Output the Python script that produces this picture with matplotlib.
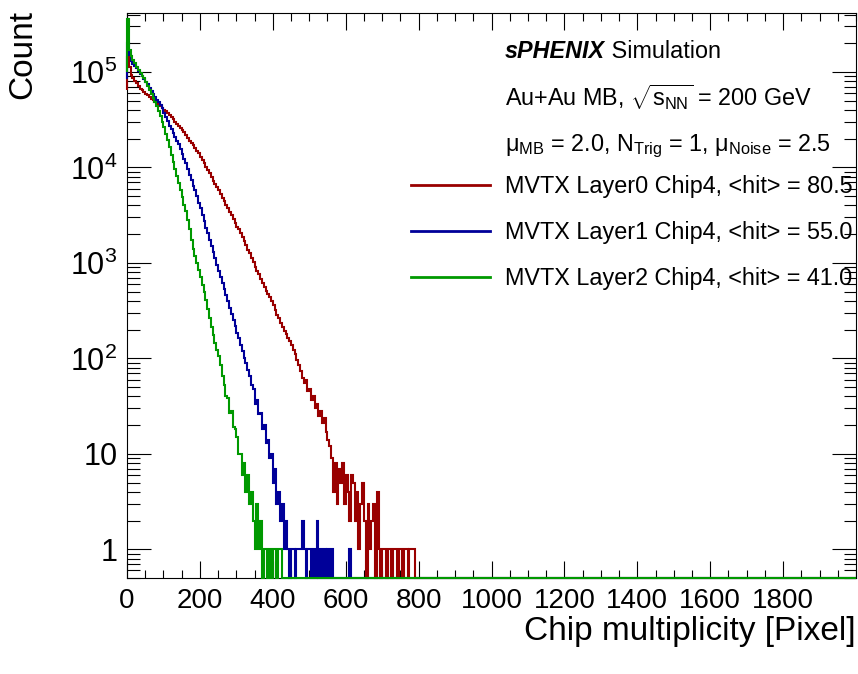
import numpy as np
import matplotlib
matplotlib.use("Agg")
import matplotlib.pyplot as plt
from matplotlib.lines import Line2D
from matplotlib.ticker import LogLocator, FixedLocator, MultipleLocator, FuncFormatter, NullFormatter

plt.rcParams["font.family"] = ["Liberation Sans", "DejaVu Sans"]
plt.rcParams["mathtext.fontset"] = "custom"
plt.rcParams["mathtext.rm"] = "Liberation Sans"
plt.rcParams["mathtext.it"] = "Liberation Sans:italic"
plt.rcParams["mathtext.bf"] = "Liberation Sans:bold"

# ---- histogram binning: one narrow first bin, then 5-pixel-wide bins up to 2000
bin_edges = np.concatenate(([0.0, 1.0], np.arange(5.0, 2000.1, 5.0)))

# ---- bin contents (first two entries: [0,1) and [1,5); then rows of ten 5-wide bins)
layer0_counts = [
    65000, 145000,
    112000, 93000, 87000, 81000, 76000, 71000, 66000, 64500, 62000, 59000,   # 5-55
    57500, 55000, 52500, 51000, 49000, 47000, 45700, 43600, 41700, 39800,    # 55-105
    38900, 37200, 35500, 33900, 32400, 30200, 28800, 27500, 25700, 24500,    # 105-155
    23400, 21900, 20400, 19100, 18200, 17000, 15800, 14800, 14100, 12900,    # 155-205
    12000, 11000, 10200, 9300, 8700, 7900, 7250, 6760, 6170, 5750,           # 205-255
    5250, 4790, 4420, 4070, 3720, 3390, 3160, 2880, 2630, 2400,              # 255-305
    2240, 2040, 1860, 1700, 1550, 1380, 1260, 1120, 1020, 912,               # 305-355
    832, 759, 676, 617, 562, 513, 468, 437, 398, 363,                        # 355-405
    324, 288, 263, 234, 214, 195, 178, 162, 151, 138,                        # 405-455
    123, 110, 95, 85, 74, 63, 55, 60, 45, 48,                                # 455-505
    37, 40, 30, 33, 25, 28, 21, 24, 17, 14,                                  # 505-555
    12, 9, 4, 8, 3, 7, 5, 8, 3, 6,                                           # 555-605
    4, 2, 6, 5, 2, 4, 1, 3, 5, 2,                                            # 605-655
    0, 3, 1, 2, 3, 0, 4, 1, 0, 1,                                            # 655-705
    1, 0, 1, 1, 0, 1, 1, 0, 1, 1,                                            # 705-755
    0, 1, 1, 0, 1, 1, 1,                                                     # 755-790
]

layer1_counts = [
    85000, 200000,
    150000, 130000, 121000, 115000, 110000, 102000, 95500, 91000, 85000, 79000,  # 5-55
    74000, 68000, 63000, 59000, 55000, 51000, 48000, 44700, 41700, 37000,        # 55-105
    34000, 31000, 27500, 25000, 23000, 21000, 19000, 17400, 15500, 13800,        # 105-155
    12300, 11000, 9550, 8300, 7400, 6450, 5750, 5000, 4270, 3720,                # 155-205
    3160, 2750, 2340, 2040, 1740, 1510, 1290, 1120, 955, 832,                    # 205-255
    708, 617, 537, 457, 398, 339, 295, 251, 219, 186,                            # 255-305
    162, 138, 120, 102, 89, 76, 66, 52, 48, 33,                                  # 305-355
    37, 26, 27, 18, 20, 13, 14, 9, 10, 5,                                        # 355-405
    7, 3, 4, 2, 3, 1, 2, 1, 0, 1,                                                # 405-455
    1, 0, 1, 1, 1, 2, 1, 0, 1, 1,                                                # 455-505
    0, 1, 0, 2, 0, 1, 0, 1, 0, 1,                                                # 505-555
    0, 1, 0, 0, 0, 0, 0, 0, 0, 0,                                                # 555-605
    0, 1,                                                                        # 605-615
]

layer2_counts = [
    100000, 355000,
    170000, 148000, 135000, 123000, 112000, 105000, 98000, 91000, 87000, 79000,  # 5-55
    72000, 65000, 59000, 54000, 48000, 43600, 39000, 34700, 30200, 26300,        # 55-105
    22400, 19500, 16200, 13500, 11500, 9550, 8130, 6900, 5750, 4900,             # 105-155
    4070, 3470, 2820, 2240, 1740, 1410, 1170, 1000, 851, 708,                    # 155-205
    589, 490, 407, 331, 263, 214, 174, 145, 123, 105,                            # 205-255
    85, 66, 52, 40, 38, 27, 28, 19, 18, 15,                                      # 255-305
    10, 10, 6, 8, 4, 6, 3, 4, 2, 1,                                              # 305-355
    3, 1, 2, 0, 1, 1, 0, 1, 0, 1,                                                # 355-405
    1, 0, 1, 1,                                                                  # 405-425
]

series_labels = [
    "MVTX Layer0 Chip4, <hit> = 80.5",
    "MVTX Layer1 Chip4, <hit> = 55.0",
    "MVTX Layer2 Chip4, <hit> = 41.0",
]
series_colors = ["#990000", "#000099", "#009900"]

x_ticks = [0, 200, 400, 600, 800, 1000, 1200, 1400, 1600, 1800]
x_range = (0, 2000)
y_range = (0.5, 4.15e5)

fig = plt.figure(figsize=(8.58, 6.74), dpi=100)
ax = fig.add_axes([127 / 858, 1 - 578 / 674, (856 - 127) / 858, (578 - 13) / 674])


def filled(counts):
    arr = np.zeros(len(bin_edges) - 1)
    arr[:len(counts)] = counts
    return arr


handles = []
for counts, color, label in zip([layer0_counts, layer1_counts, layer2_counts],
                                series_colors, series_labels):
    vals = filled(counts)
    # empty bins sit on the bottom of the frame, as in a log-scale histogram
    shown = np.where(vals > 0, vals, y_range[0])
    ax.stairs(shown, bin_edges, baseline=None, color=color, lw=1.5,
              clip_on=False, zorder=3)
    handles.append(Line2D([], [], color=color, lw=2.0, label=label))

ax.set_yscale("log")
ax.set_xlim(*x_range)
ax.set_ylim(*y_range)


def y_fmt(v, pos):
    e = int(round(np.log10(v)))
    if e == 0:
        return "1"
    if e == 1:
        return "10"
    return r"$\mathregular{10^{%d}}$" % e


ax.yaxis.set_major_locator(LogLocator(base=10, numticks=12))
ax.yaxis.set_minor_locator(LogLocator(base=10, subs=np.arange(2, 10), numticks=40))
ax.yaxis.set_major_formatter(FuncFormatter(y_fmt))
ax.yaxis.set_minor_formatter(NullFormatter())

ax.xaxis.set_major_locator(FixedLocator(x_ticks))
ax.xaxis.set_minor_locator(MultipleLocator(50))
ax.set_xticklabels([str(t) for t in x_ticks])

ax.tick_params(which="both", direction="in", top=True, right=True,
               width=0.8, color="black")
ax.tick_params(axis="x", which="major", length=12.2, pad=7, labelsize=20)
ax.tick_params(axis="x", which="minor", length=5.5)
ax.tick_params(axis="y", which="major", length=17, pad=7, labelsize=22)
ax.tick_params(axis="y", which="minor", length=9)
for sp in ax.spines.values():
    sp.set_linewidth(0.8)

ax.set_xlabel("Chip multiplicity [Pixel]", fontsize=24, loc="right")
ax.xaxis.set_label_coords(1.0, -0.068)
ax.set_ylabel("Count", fontsize=24, loc="top")
ax.yaxis.set_label_coords(-0.122, 1.005)

# header text
tx = 0.5185
t1 = ax.text(tx, 0.9204, "sPHENIX", transform=ax.transAxes, fontsize=16.8,
             fontweight="bold", fontstyle="italic", va="baseline", ha="left")
ax.annotate(" Simulation", xy=(1, 0), xycoords=t1, fontsize=16.8,
            va="bottom", ha="left")
ax.text(tx, 0.8354, r"Au+Au MB, $\sqrt{\mathrm{s}_{\mathrm{NN}}}$ = 200 GeV",
        transform=ax.transAxes, fontsize=16.8, va="baseline", ha="left")
ax.text(tx, 0.7558,
        r"μ$_{\mathrm{MB}}$ = 2.0, N$_{\mathrm{Trig}}$ = 1, μ$_{\mathrm{Noise}}$ = 2.5",
        transform=ax.transAxes, fontsize=16.8, va="baseline", ha="left")

ax.legend(handles=handles, loc="upper left", bbox_to_anchor=(0.3896, 0.7124),
          frameon=False, fontsize=16.8, handlelength=3.4, handletextpad=0.64,
          labelspacing=0.97, borderpad=0, borderaxespad=0)

fig.savefig("out.png", dpi=100)
